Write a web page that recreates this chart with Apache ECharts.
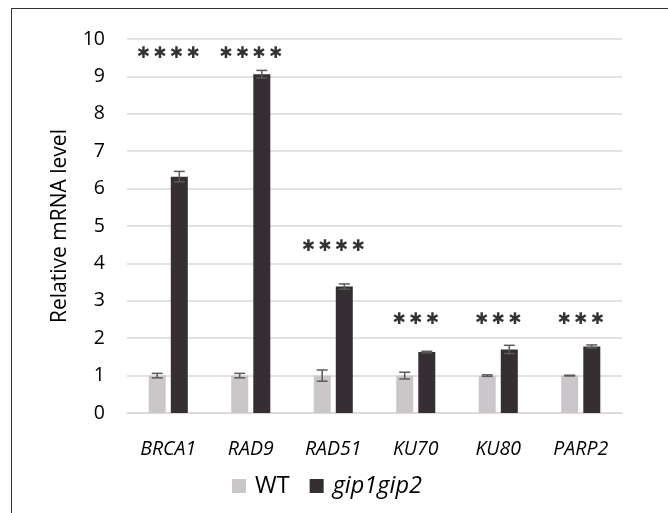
<!DOCTYPE html>
<html>
<head>
<meta charset="utf-8">
<script src="https://cdn.jsdelivr.net/npm/echarts@6/dist/echarts.min.js"></script>
<style>
html,body{margin:0;padding:0;background:#fff;}
#frame{position:absolute;left:11px;top:8px;width:657px;height:505px;border-left:1.5px solid #333;border-top:1.5px solid #333;box-sizing:border-box;}
#chart{position:absolute;left:0;top:0;width:668px;height:513px;}
</style>
</head>
<body>
<div id="frame"></div>
<div id="chart"></div>
<script>
const categories = ['BRCA1', 'RAD9', 'RAD51', 'KU70', 'KU80', 'PARP2'];
const wtValues = [1.0, 1.0, 1.0, 1.0, 1.0, 1.0];
const wtErrors = [0.06, 0.06, 0.15, 0.09, 0.02, 0.01];
const gipValues = [6.32, 9.06, 3.38, 1.63, 1.70, 1.78];
const gipErrors = [0.14, 0.10, 0.07, 0.02, 0.11, 0.04];
const sigLabels = ['****', '****', '****', '***', '***', '***'];
const sigY = [9.6, 9.6, 4.45, 2.5, 2.5, 2.5];
const yTicks = [0, 1, 2, 3, 4, 5, 6, 7, 8, 9, 10];

const FONT = 'Open Sans';
const BAR_W = 17;
const OFFSET = 11.05;

function errRender(values, errors, dir) {
  return function (params, api) {
    const i = api.value(0);
    const v = values[i], e = errors[i];
    const top = api.coord([i, v + e]);
    const bot = api.coord([i, v - e]);
    const x = top[0] + dir * OFFSET;
    const hw = 5.5;
    const style = { stroke: '#5a5a5a', lineWidth: 1.5 };
    return {
      type: 'group',
      children: [
        { type: 'line', shape: { x1: x, y1: top[1], x2: x, y2: bot[1] }, style },
        { type: 'line', shape: { x1: x - hw, y1: top[1], x2: x + hw, y2: top[1] }, style },
        { type: 'line', shape: { x1: x - hw, y1: bot[1], x2: x + hw, y2: bot[1] }, style }
      ]
    };
  };
}

const chart = echarts.init(document.getElementById('chart'), null, { renderer: 'canvas' });
chart.setOption({
  animation: false,
  textStyle: { fontFamily: FONT },
  grid: { left: 127, right: 46, top: 39, bottom: 100, containLabel: false },
  legend: {
    bottom: 10,
    left: 227,
    itemWidth: 14,
    itemHeight: 14,
    itemGap: 20,
    icon: 'rect',
    data: ['WT', 'gip1gip2'],
    textStyle: {
      fontFamily: FONT, fontSize: 23.5, color: '#000', padding: [0, 0, 0, 4],
      rich: { i: { fontStyle: 'italic', fontFamily: FONT, fontSize: 23.5, color: '#000' } }
    },
    formatter: function (name) { return name === 'WT' ? name : '{i|' + name + '}'; }
  },
  xAxis: {
    type: 'category',
    data: categories,
    axisLine: { show: true, lineStyle: { color: '#d9d9d9', width: 1.5 } },
    axisTick: { show: false },
    axisLabel: { fontStyle: 'italic', fontSize: 19.5, color: '#000', margin: 26, fontFamily: FONT }
  },
  yAxis: {
    type: 'value',
    min: 0, max: 10, interval: 1,
    name: 'Relative mRNA level',
    nameLocation: 'middle',
    nameGap: 56,
    nameTextStyle: { fontSize: 21, color: '#000', fontFamily: FONT },
    axisLine: { show: false },
    axisTick: { show: false },
    splitLine: { lineStyle: { color: '#d9d9d9', width: 1.5 } },
    axisLabel: {
      fontSize: 19.5, color: '#000', margin: 22, fontFamily: FONT,
      formatter: function (v) { return yTicks.indexOf(v) >= 0 ? String(v) : ''; }
    }
  },
  series: [
    {
      name: 'WT', type: 'bar', data: wtValues, barWidth: BAR_W, barGap: '30%',
      itemStyle: { color: '#cbc6ca' }
    },
    {
      name: 'gip1gip2', type: 'bar', data: gipValues, barWidth: BAR_W,
      itemStyle: { color: '#352f33' }
    },
    {
      type: 'custom', renderItem: errRender(wtValues, wtErrors, -1),
      data: categories.map((c, i) => [i, wtValues[i]]), z: 5, silent: true
    },
    {
      type: 'custom', renderItem: errRender(gipValues, gipErrors, 1),
      data: categories.map((c, i) => [i, gipValues[i]]), z: 5, silent: true
    },
    {
      type: 'scatter', symbolSize: 0, silent: true,
      data: categories.map((c, i) => [i, sigY[i]]),
      label: {
        show: true, position: 'inside',
        formatter: function (p) { return sigLabels[p.dataIndex].replace(/\*/g, '\u2731').split('').join('\u2009'); },
        fontSize: 16, color: '#000', fontFamily: 'DejaVu Sans',
        offset: [0, 0]
      }
    }
  ]
});
</script>
</body>
</html>
